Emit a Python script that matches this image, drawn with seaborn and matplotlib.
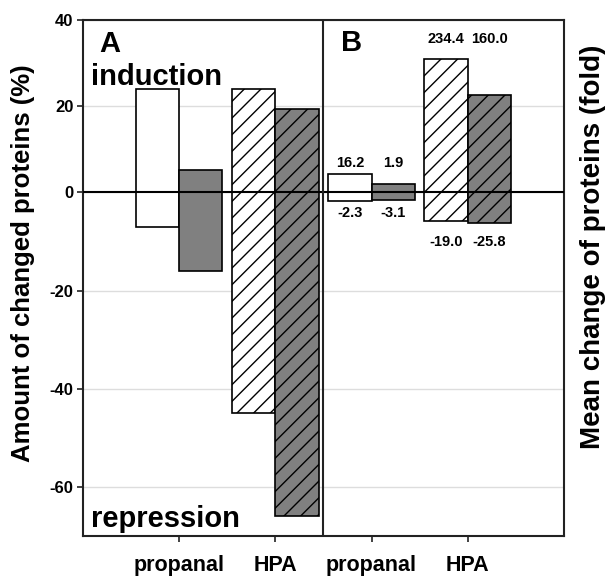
import numpy as np
import pandas as pd
import matplotlib
matplotlib.use('Agg')
import matplotlib.pyplot as plt
import seaborn as sns

# categories (A = amount in %, B = mean fold change)
groups = ['A propanal', 'A HPA', 'B propanal', 'B HPA']
tick_labels = ['propanal', 'HPA', 'propanal', 'HPA']
series = ['open', 'grey']

# bar heights (axis units of panel A)
induction_open = [24, 24, 4.2, 30.9]
induction_grey = [5.2, 19.3, 1.9, 22.6]
repression_open = [-7, -45, -1.8, -5.8]
repression_grey = [-16, -66, -1.6, -6.2]

# printed fold values in panel B
fold_up_open = ['16.2', '234.4']
fold_up_grey = ['1.9', '160.0']
fold_down_open = ['-2.3', '-19.0']
fold_down_grey = ['-3.1', '-25.8']

yticks = [40, 20, 0, -20, -40, -60]

# the picture stretches the negative half of the axis a little
NEG = 1.139


def forward(y):
    y = np.asarray(y, dtype=float)
    return np.where(y < 0, y * NEG, y)


def inverse(y):
    y = np.asarray(y, dtype=float)
    return np.where(y < 0, y / NEG, y)


def long_table(open_vals, grey_vals):
    return pd.DataFrame({
        'group': groups * 2,
        'series': [series[0]] * 4 + [series[1]] * 4,
        'value': list(open_vals) + list(grey_vals),
    })


sns.set_style('white')
plt.rcParams['font.family'] = ['Liberation Sans', 'DejaVu Sans']
plt.rcParams['font.weight'] = 'bold'
plt.rcParams['hatch.linewidth'] = 1.0
plt.rcParams['text.color'] = 'black'
plt.rcParams['xtick.labelcolor'] = 'black'
plt.rcParams['ytick.labelcolor'] = 'black'

fig, ax = plt.subplots(figsize=(6.09, 5.79), dpi=100)
fig.subplots_adjust(left=0.1363, right=0.926, top=0.9655, bottom=0.0743)

ax.set_yscale('function', functions=(forward, inverse))

palette = {'open': 'white', 'grey': '#808080'}
for table in (long_table(induction_open, induction_grey),
              long_table(repression_open, repression_grey)):
    sns.barplot(data=table, x='group', y='value', hue='series', order=groups,
                hue_order=series, palette=palette, saturation=1, width=0.9,
                edgecolor='black', linewidth=1.2, legend=False, errorbar=None,
                ax=ax)

# hatch the HPA bars
for patch in ax.patches:
    cx = patch.get_x() + patch.get_width() / 2
    if int(round(cx)) in (1, 3):
        patch.set_hatch('//')

ax.set_xlim(-1, 4)
ax.set_ylim(-70, 40)
ax.set_yticks(yticks)
ax.set_yticklabels([str(t) for t in yticks])
ax.set_xticks(range(len(groups)))
ax.set_xticklabels(tick_labels)
ax.set_xlabel('')
ax.set_ylabel('')

ax.yaxis.grid(True, color='#dddddd', linewidth=1.0)
ax.set_axisbelow(True)
ax.axhline(0, color='black', linewidth=1.5, zorder=5)
ax.axvline(1.5, color='#222222', linewidth=1.5, zorder=5)

for side in ['left', 'right', 'top', 'bottom']:
    ax.spines[side].set_color('#222222')
    ax.spines[side].set_linewidth(1.5)

ax.tick_params(axis='y', left=True, labelsize=12, length=4, width=1.2,
               color='#222222', labelcolor='black', pad=3)
ax.tick_params(axis='x', bottom=True, labelsize=15.5, length=4, width=1.2,
               color='#222222', labelcolor='black', pad=10)

fig.text(0.038, 0.546, 'Amount of changed proteins (%)', rotation=90,
         fontsize=18.5, fontweight='bold', ha='center', va='center')
fig.text(0.973, 0.573, 'Mean change of proteins (fold)', rotation=90,
         fontsize=20, fontweight='bold', ha='center', va='center')

# panel letters and notes
ax.text(0.056, 0.953, 'A', transform=ax.transAxes, fontsize=21,
        fontweight='bold', ha='center', va='center')
ax.text(0.559, 0.955, 'B', transform=ax.transAxes, fontsize=21,
        fontweight='bold', ha='center', va='center')
ax.text(0.017, 0.874, 'induction', transform=ax.transAxes, fontsize=21,
        fontweight='bold', ha='left', va='baseline')
ax.text(0.017, 0.017, 'repression', transform=ax.transAxes, fontsize=21,
        fontweight='bold', ha='left', va='baseline')

# fold values above / below each pair of panel B bars
up_offset = [11, 20]
down_offset = [12, 19]
for i, g in enumerate([2, 3]):
    top = max(induction_open[g], induction_grey[g])
    bottom = min(repression_open[g], repression_grey[g])
    for dx, up, down in [(-0.225, fold_up_open, fold_down_open),
                         (0.225, fold_up_grey, fold_down_grey)]:
        ax.annotate(up[i], xy=(g + dx, top), xytext=(0, up_offset[i]),
                    textcoords='offset pixels', ha='center', va='center',
                    fontsize=10.5, fontweight='bold')
        ax.annotate(down[i], xy=(g + dx, bottom), xytext=(0, -down_offset[i]),
                    textcoords='offset pixels', ha='center', va='center',
                    fontsize=10.5, fontweight='bold')

fig.savefig('out.png', dpi=100)
